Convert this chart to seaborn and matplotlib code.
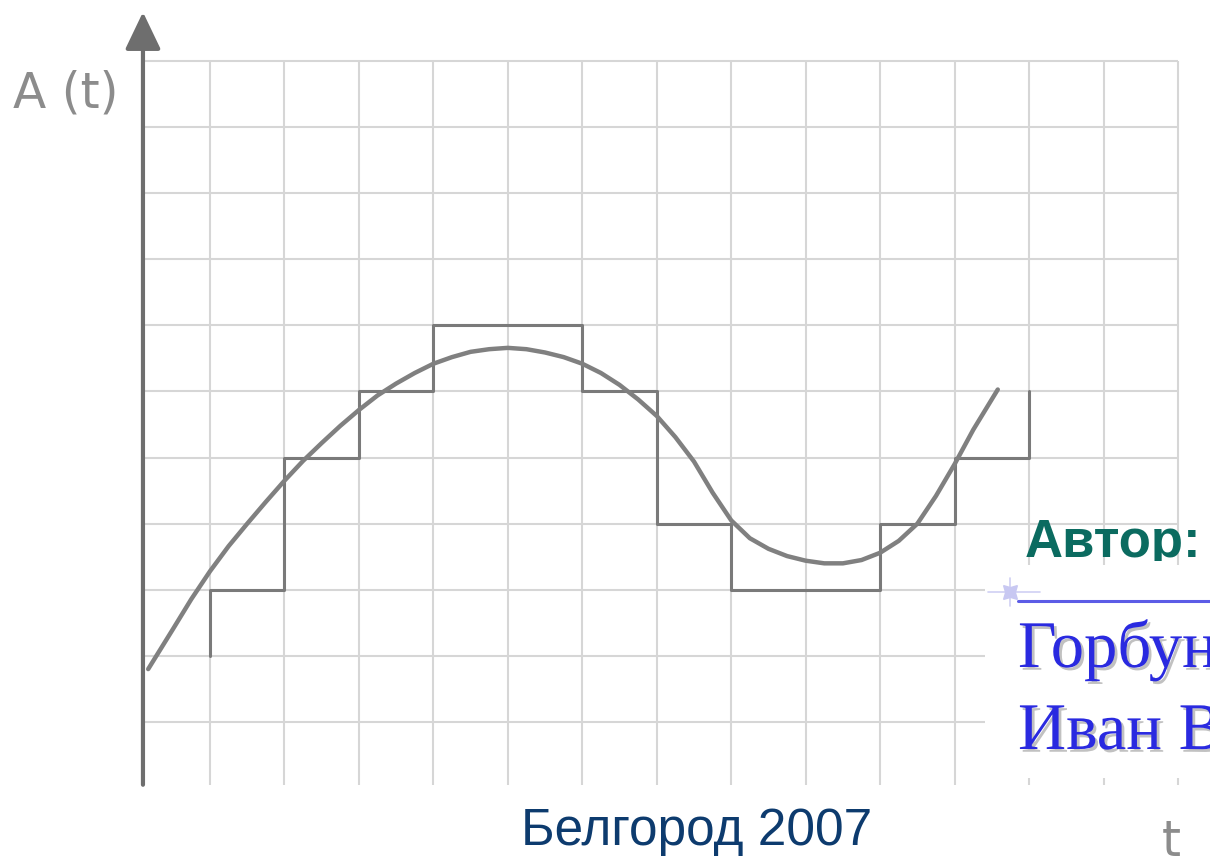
import numpy as np
import matplotlib
matplotlib.use("Agg")
from matplotlib import pyplot as plt
from matplotlib import patheffects as pe
from matplotlib.patches import Rectangle
from matplotlib.lines import Line2D
from matplotlib.transforms import Bbox, TransformedBbox
import seaborn as sns

# непрерывный сигнал A(t) (клетки сетки)
curve_t = [0.17, 0.5, 0.75, 1.0, 1.25, 1.5, 1.75, 2.0, 2.25, 2.5, 2.75, 3.0,
           3.25, 3.5, 3.75, 4.0, 4.25, 4.5, 4.75, 5.0, 5.25, 5.5, 5.75, 6.0,
           6.25, 6.5, 6.75, 7.0, 7.25, 7.5, 7.75, 8.0, 8.25, 8.5, 8.75, 9.0,
           9.25, 9.5, 9.75, 10.0, 10.25, 10.5, 10.75, 11.0, 11.25, 11.58]
curve_a = [1.8, 2.4, 2.86, 3.28, 3.66, 4.0, 4.33, 4.65, 4.95, 5.22, 5.48, 5.72,
           5.94, 6.12, 6.28, 6.42, 6.52, 6.6, 6.64, 6.66, 6.64, 6.59, 6.52, 6.42,
           6.28, 6.1, 5.88, 5.63, 5.31, 4.94, 4.47, 4.05, 3.78, 3.62, 3.51, 3.44,
           3.4, 3.4, 3.45, 3.56, 3.74, 4.0, 4.42, 4.9, 5.42, 6.03]

# дискретизированный (ступенчатый) сигнал
sample_t = [1, 1, 2, 3, 4, 5, 6, 7, 8, 9, 10, 11, 12]
sample_a = [2, 3, 5, 6, 7, 7, 6, 4, 3, 3, 4, 5, 6]

grid_t = list(range(1, 15))
grid_a = list(range(1, 12))

W, H = 1210, 858


def px(x, y):
    # пиксели картинки -> доли фигуры
    return x / W, 1 - y / H


sns.set_style("white")
plt.rcParams['font.family'] = ['Liberation Sans', 'DejaVu Sans']

fig = plt.figure(figsize=(W / 100, H / 100), dpi=100)
ax = fig.add_axes([0, 0, 1, 1])
ax.set_xlim(-1.820, 14.430)
ax.set_ylim(-1.058, 11.923)
ax.set_axis_off()

x0, y0 = 0.1, 0.05  # положение осей

# сетка
ax.vlines(grid_t, y0, grid_a[-1], color='#d6d6d6', lw=1.5, zorder=1)
ax.hlines(grid_a, x0, grid_t[-1], color='#d6d6d6', lw=1.5, zorder=1)

# оси со стрелками
arrow = dict(arrowstyle='-|>,head_length=23,head_width=11', mutation_scale=1,
             lw=3, color='#6e6e6e', shrinkA=0, shrinkB=0)
ax.annotate('', xy=(x0, 11.74), xytext=(x0, y0), arrowprops=arrow, zorder=5)
ax.annotate('', xy=(14.65, y0), xytext=(x0, y0), arrowprops=arrow, zorder=5)

sns.lineplot(x=sample_t, y=sample_a, ax=ax, estimator=None, sort=False,
             drawstyle='steps-post', color='#7a7a7a', lw=2.2, zorder=3)
sns.lineplot(x=curve_t, y=curve_a, ax=ax, estimator=None, sort=False,
             color='#808080', lw=3.2, zorder=4, solid_joinstyle='round',
             solid_capstyle='round')

# подписи осей
fig.text(*px(13, 108), 'A (t)', fontsize=35, color='#8c8c8c',
         family='DejaVu Sans', ha='left', va='baseline')
fig.text(*px(1171, 856), 't', fontsize=35, color='#8c8c8c',
         family='DejaVu Sans', ha='center', va='baseline')

fig.text(*px(697, 845), 'Белгород 2007', fontsize=37, color='#0d3b6e',
         ha='center', va='baseline')

# блок автора
fig.add_artist(Rectangle(px(985, 778), 225 / W, 213 / H, transform=fig.transFigure,
                         facecolor='white', edgecolor='none', zorder=1))
t_author = fig.text(*px(1025, 557), 'Автор:', fontsize=38, fontweight='bold',
                    color='#0b6b60', ha='left', va='baseline', zorder=4)
t_author.set_clip_box(TransformedBbox(Bbox.from_extents(*px(1000, 561), *px(1210, 500)),
                                      fig.transFigure))
t_author.set_clip_on(True)

fig.add_artist(Line2D([px(1018, 0)[0], 1.0], [px(0, 601)[1]] * 2, transform=fig.transFigure,
                      color='#5c5ce6', lw=2.2, zorder=4))
# блик
fig.add_artist(Line2D([px(988, 0)[0], px(1040, 0)[0]], [px(0, 592)[1]] * 2,
                      transform=fig.transFigure, color='#d0d0f4', lw=1.2, zorder=4))
fig.add_artist(Line2D([px(1010, 0)[0]] * 2, [px(0, 578)[1], px(0, 606)[1]],
                      transform=fig.transFigure, color='#d0d0f4', lw=1.2, zorder=4))
fig.add_artist(Line2D([px(1010, 0)[0]], [px(0, 592)[1]], transform=fig.transFigure,
                      marker=(4, 1, 45), markersize=14, color='#c8c8f2', lw=0, zorder=4))

shadow = [pe.withSimplePatchShadow(offset=(2, -2), shadow_rgbFace='#999999', alpha=0.6)]
fig.text(*px(1018, 667), 'Горбун', fontsize=48, color='#2a2ae0',
         family=['Liberation Serif', 'DejaVu Serif'], ha='left', va='baseline',
         path_effects=shadow, zorder=5)
fig.text(*px(1018, 749), 'Иван В', fontsize=48, color='#2a2ae0',
         family=['Liberation Serif', 'DejaVu Serif'], ha='left', va='baseline',
         path_effects=shadow, zorder=5)

fig.savefig('out.png', dpi=100)
